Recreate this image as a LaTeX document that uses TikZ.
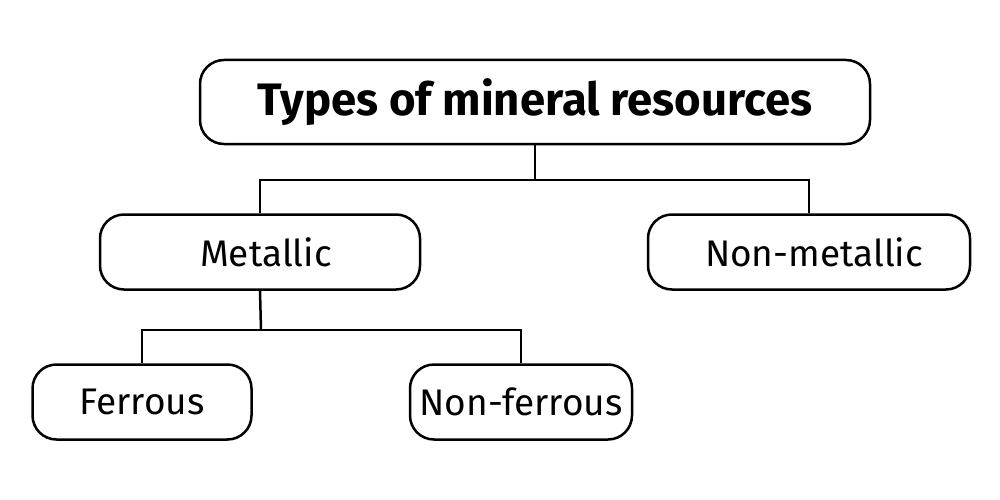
\documentclass[tikz,border=0pt]{standalone}
\usepackage{fontspec}
\setmainfont{Fira Sans}
\begin{document}
\begin{tikzpicture}[x=1pt,y=-1pt,
  box/.style={draw=black,line width=2.5pt,rounded corners=24pt,fill=white,inner sep=0pt,font=\fontsize{37}{40}\selectfont},
  conn/.style={draw=black,line width=2.5pt}]
\useasboundingbox[fill=white] (0,0) rectangle (1000,500);
\node[box,minimum width=670pt,minimum height=84pt,font=\fontsize{45.5}{50}\selectfont\bfseries] (title) at (535,102) {Types of mineral resources};
\node[box,minimum width=320pt,minimum height=75pt] (metal) at (260,252) {\hspace*{12pt}Metallic};
\node[box,minimum width=322pt,minimum height=75pt] (nonmetal) at (809,252) {\hspace*{10pt}Non-metallic};
\node[box,minimum width=219pt,minimum height=75pt] (ferr) at (142,402) {Ferrous};
\node[box,minimum width=222pt,minimum height=75pt] (nonferr) at (521,402) {Non-ferrous};
\coordinate (j1) at (535,180);
\coordinate (j2) at (261,330);
\draw[conn] (title.south) -- (j1);
\draw[conn] (metal.north) |- (j1) -| (nonmetal.north);
\draw[conn] (metal.south) -- (j2);
\draw[conn] (ferr.north) |- (j2) -| (nonferr.north);
\end{tikzpicture}
\end{document}
